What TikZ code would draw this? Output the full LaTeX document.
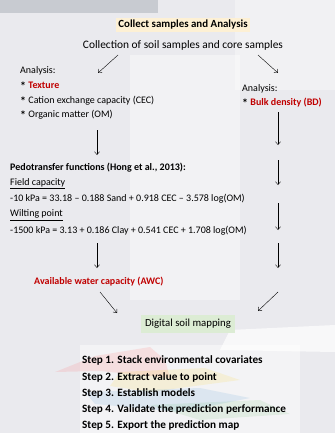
\documentclass[tikz,border=0pt]{standalone}
\usepackage{fontspec}
\setmainfont{Carlito}
\usetikzlibrary{arrows.meta}
\definecolor{soilred}{RGB}{192,0,0}
\definecolor{bggray}{RGB}{234,234,238}
\definecolor{bargray}{RGB}{200,203,209}
\definecolor{collectyellow}{RGB}{253,240,212}
\definecolor{dsmgreen}{RGB}{220,236,212}
\newcommand{\bul}{\raisebox{-0.5ex}{\scalebox{1.2}{\textbf{*}}}}
\newcommand{\hot}[1]{\textcolor{soilred}{\textbf{#1}}}

\begin{document}
\begin{tikzpicture}[x=1pt,y=-1pt,
    txt/.style={font=\fontsize{10}{12}\selectfont,inner sep=1pt,anchor=west},
    stepline/.style={font=\fontsize{11.2}{13}\selectfont\bfseries,inner sep=1pt,anchor=west},
    arr/.style={-{Straight Barb[length=3pt,width=5pt]},black,thin}]
    \useasboundingbox (0,0) rectangle (335,433);
    % background
    \fill[bggray] (0,0) rectangle (335,433);
    \fill[white,opacity=0.4] (130,55) rectangle (240,300);
    \fill[white,opacity=0.35] (235,0) rectangle (335,90);
    \fill[white,opacity=0.7] (230,330) -- (335,325) -- (335,352) -- (220,350) -- cycle;
    \fill[white,opacity=0.45] (80,345) rectangle (300,433);
    \fill[red!50,opacity=0.18] (150,347) -- (95,356) -- (55,372) -- (100,371) -- (170,378) -- (165,360) -- cycle;
    \fill[yellow!70!orange,opacity=0.12] (120,372) -- (205,368) -- (240,380) -- (150,392) -- (110,386) -- cycle;
    \fill[cyan!60!blue,opacity=0.1] (85,392) -- (200,388) -- (250,398) -- (180,412) -- (95,404) -- cycle;
    \fill[green!60!black,opacity=0.07] (150,405) -- (260,400) -- (290,414) -- (200,420) -- cycle;
    \fill[bargray] (0,0) rectangle (158,13);

    % top
    \node[fill=collectyellow,inner sep=2pt,font=\fontsize{10.9}{12}\selectfont\bfseries] (collect) at (183,25) {Collect samples and Analysis};
    \node[inner sep=1pt,font=\fontsize{11.4}{13}\selectfont] (soil) at (183,45) {Collection of soil samples and core samples};

    % left column
    \node[txt] (anaL) at (19,71) {Analysis:};
    \node[txt] (tex) at (19,86) {\bul\ \hot{Texture}};
    \node[txt] (cec) at (19,101) {\bul\ Cation exchange capacity (CEC)};
    \node[txt] (om) at (19,115) {\bul\ Organic matter (OM)};

    % right column
    \node[txt] (anaR) at (241,89) {Analysis:};
    \node[txt] (bd) at (241,103) {\bul\ \hot{Bulk density (BD)}};

    % pedotransfer
    \node[txt] (ptf) at (9,168) {\textbf{Pedotransfer functions (Hong et al., 2013):}};
    \node[txt] (fc) at (9,184) {\underline{Field capacity}};
    \node[txt] (fceq) at (9,199) {-10 kPa = 33.18 -- 0.188 Sand + 0.918 CEC -- 3.578 log(OM)};
    \node[txt] (wp) at (9,215) {\underline{Wilting point}};
    \node[txt] (wpeq) at (9,231) {-1500 kPa = 3.13 + 0.186 Clay + 0.541 CEC + 1.708 log(OM)};

    \node[txt] (awc) at (33,282) {\hot{Available water capacity (AWC)}};
    \node[fill=dsmgreen,inner sep=4pt,font=\fontsize{10.8}{12}\selectfont] (dsm) at (188,324) {Digital soil mapping};

    % steps
    \node[stepline] (s1) at (81,360) {Step 1. Stack environmental covariates};
    \node[stepline] (s2) at (81,377) {Step 2. Extract value to point};
    \node[stepline] (s3) at (81,393) {Step 3. Establish models};
    \node[stepline] (s4) at (81,409) {Step 4. Validate the prediction performance};
    \node[stepline] (s5) at (81,425) {Step 5. Export the prediction map};

    % arrow ends
    \coordinate (l1a) at (118,55); \coordinate (l1b) at (98,73);
    \coordinate (r1a) at (258,55); \coordinate (r1b) at (278,73);
    \coordinate (l2a) at (97,130); \coordinate (l2b) at (97,155);
    \coordinate (l3a) at (97,243); \coordinate (l3b) at (97,268);
    \coordinate (r2a) at (278,112); \coordinate (r2b) at (278,145);
    \coordinate (r3a) at (278,160); \coordinate (r3b) at (278,185);
    \coordinate (r4a) at (278,203); \coordinate (r4b) at (278,230);
    \coordinate (r5a) at (278,243); \coordinate (r5b) at (278,268);
    \coordinate (l4a) at (100,292); \coordinate (l4b) at (117,313);
    \coordinate (r6a) at (278,292); \coordinate (r6b) at (258,311);

    \draw[arr] (l1a) -- (l1b);
    \draw[arr] (r1a) -- (r1b);
    \draw[arr] (l2a) -- (l2b);
    \draw[arr] (l3a) -- (l3b);
    \draw[arr] (r2a) -- (r2b);
    \draw[arr] (r3a) -- (r3b);
    \draw[arr] (r4a) -- (r4b);
    \draw[arr] (r5a) -- (r5b);
    \draw[arr] (l4a) -- (l4b);
    \draw[arr] (r6a) -- (r6b);
\end{tikzpicture}
\end{document}
